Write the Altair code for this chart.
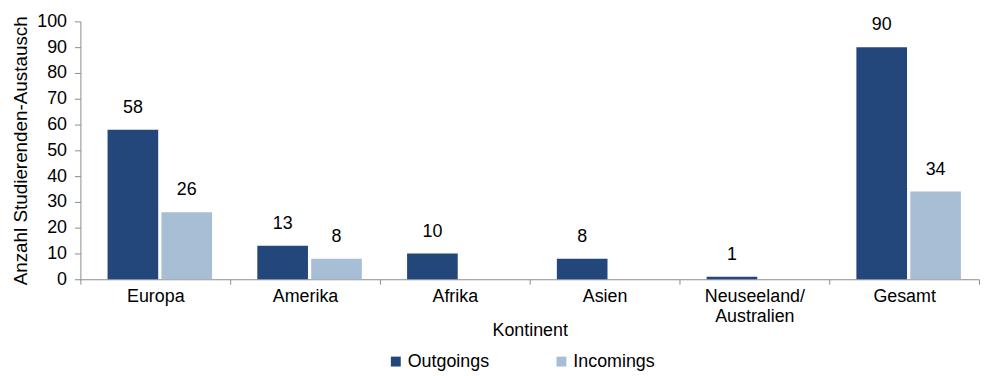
import altair as alt
import pandas as pd

categories = ["Europa", "Amerika", "Afrika", "Asien", "Neuseeland/Australien", "Gesamt"]
outgoings = [58, 13, 10, 8, 1, 90]
incomings = [26, 8, None, None, None, 34]
series = ["Outgoings", "Incomings"]
colors = ["#23467B", "#A7BED4"]
y_ticks = list(range(0, 101, 10))

rows = []
for c, o, i in zip(categories, outgoings, incomings):
    if o is not None:
        rows.append({"Kontinent": c, "Serie": "Outgoings", "Wert": o})
    if i is not None:
        rows.append({"Kontinent": c, "Serie": "Incomings", "Wert": i})
df = pd.DataFrame(rows)

FONT = "Liberation Sans"
FS = 18
AXC = "#8C8C8C"

x = alt.X(
    "Kontinent:N",
    sort=categories,
    scale=alt.Scale(domain=categories, paddingInner=0, paddingOuter=0),
    axis=alt.Axis(
        title="Kontinent",
        labelAngle=0,
        tickBand="extent",
        tickSize=5,
        labelPadding=3,
        labelLineHeight=21,
        labelExpr="datum.label == 'Neuseeland/Australien' ? ['Neuseeland/', 'Australien'] : datum.label",
        titleY=52,
        titleBaseline="middle",
        domainColor=AXC,
        tickColor=AXC,
        labelFontSize=FS,
        titleFontSize=FS,
        labelColor="#000000",
        titleColor="#000000",
        titleFontWeight="normal",
    ),
)
xoff = alt.XOffset(
    "Serie:N",
    sort=series,
    scale=alt.Scale(domain=series, paddingInner=0.06, paddingOuter=0.42, align=0.6),
)
y = alt.Y(
    "Wert:Q",
    scale=alt.Scale(domain=[0, 100], nice=False),
    axis=alt.Axis(
        title="Anzahl Studierenden-Austausch",
        values=y_ticks,
        labelOverlap=False,
        grid=False,
        tickSize=6,
        labelPadding=8,
        titlePadding=6,
        domainColor=AXC,
        tickColor=AXC,
        labelFontSize=FS,
        titleFontSize=19,
        labelColor="#000000",
        titleColor="#000000",
        titleFontWeight="normal",
    ),
)

bars = alt.Chart(df).mark_bar().encode(
    x=x,
    xOffset=xoff,
    y=y,
    color=alt.Color(
        "Serie:N",
        sort=series,
        scale=alt.Scale(domain=series, range=colors),
        legend=alt.Legend(
            title=None,
            orient="none",
            direction="horizontal",
            legendX=309,
            legendY=334,
            symbolType="square",
            symbolSize=100,
            symbolStrokeWidth=0,
            labelFontSize=FS,
            labelColor="#000000",
            labelOffset=3,
            columnPadding=63,
        ),
    ),
)

labels = alt.Chart(df).mark_text(
    baseline="bottom", dy=-13, fontSize=FS, color="#000000", font=FONT
).encode(
    x=x,
    xOffset=xoff,
    y=y,
    text=alt.Text("Wert:Q"),
)

chart = (
    alt.layer(bars, labels)
    .properties(
        width=906,
        height=260,
        padding={"left": 3, "top": 3, "right": 0, "bottom": 0},
    )
    .configure(font=FONT)
    .configure_axis(labelOverlap=False)
    .configure_view(strokeWidth=0)
)

chart.save("out.html", embed_options={"renderer": "svg", "actions": False})
